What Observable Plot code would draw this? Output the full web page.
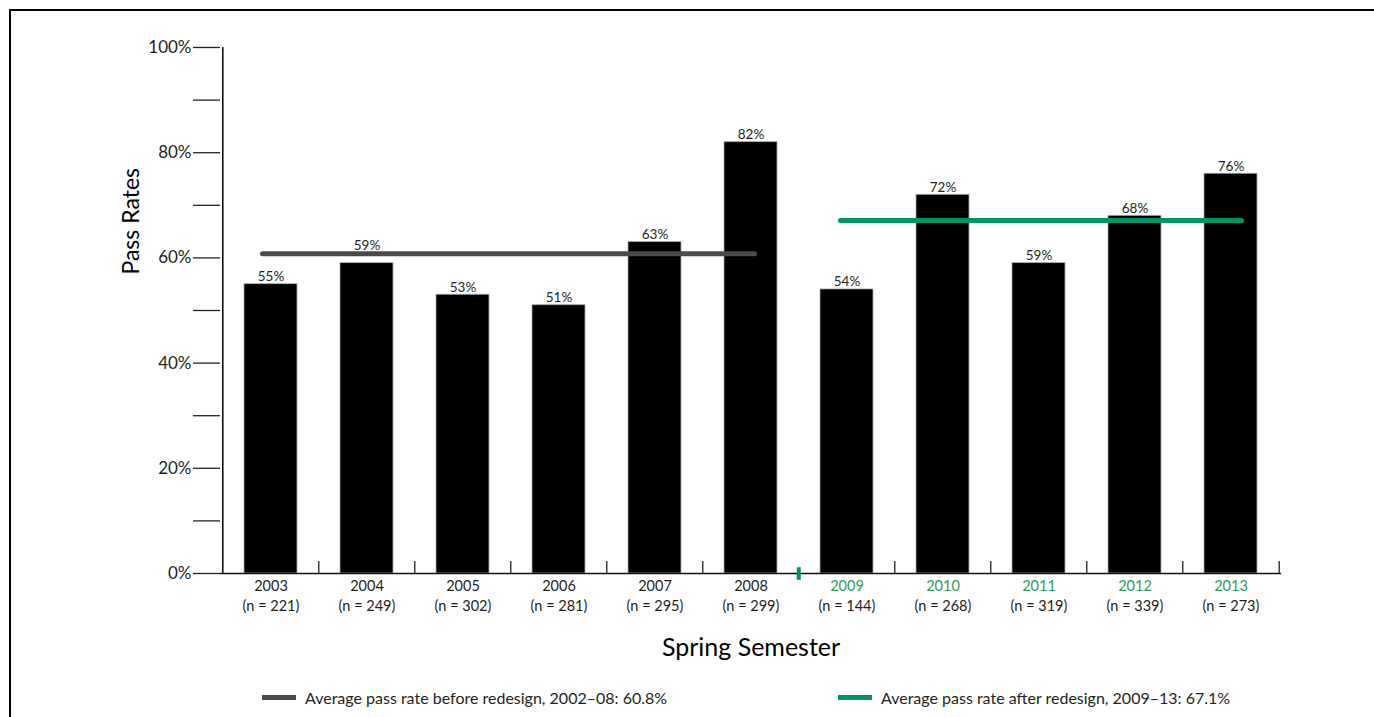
<!DOCTYPE html>
<html>
<head>
<meta charset="utf-8">
<script src="https://cdn.jsdelivr.net/npm/d3@7"></script>
<script src="https://cdn.jsdelivr.net/npm/@observablehq/plot@0.6"></script>
<style>
  html, body { margin: 0; padding: 0; background: #fff; }
  body { width: 1374px; height: 717px; position: relative; overflow: hidden; font-family: Lato, "Open Sans", sans-serif; color: #231f20; }
  #frame { position: absolute; left: 9px; top: 9px; right: -5px; bottom: -5px; border-top: 2px solid #000; border-left: 2px solid #000; }
  #chart { position: absolute; left: 0; top: 0; }
  #legend { position: absolute; left: 0; top: 685px; width: 1374px; height: 24px; font-size: 16px; }
  .item { position: absolute; top: 0; display: flex; align-items: center; height: 24px; }
  .sw { width: 34px; height: 5px; margin-right: 9px; }
</style>
</head>
<body>
<div id="frame"></div>
<div id="chart"></div>
<div id="legend"></div>
<script>
const years = ["2003","2004","2005","2006","2007","2008","2009","2010","2011","2012","2013"];
const rates = [55, 59, 53, 51, 63, 82, 54, 72, 59, 68, 76];
const ns = [221, 249, 302, 281, 295, 299, 144, 268, 319, 339, 273];
const afterYears = ["2009","2010","2011","2012","2013"];
const avgBefore = 60.8;
const avgAfter = 67.1;
const legendLabels = ["Average pass rate before redesign, 2002–08: 60.8%", "Average pass rate after redesign, 2009–13: 67.1%"];
const yTicks = [0,10,20,30,40,50,60,70,80,90,100];

const gray = "#4a4a4a";
const green = "#009366";
const greenText = "#2f9a5c";
const ink = "#231f20";

const data = years.map((y, i) => ({year: y, rate: rates[i], n: ns[i], after: afterYears.includes(y)}));
// a label that would collide with the "before" average line is lifted above it
const collides = d => !d.after && d.rate < avgBefore && d.rate + 3.5 > avgBefore;

const W = 1374, H = 680, mL = 220, mR = 93, mT = 47, mB = 107;
const step = (W - mL - mR) / years.length;

const chart = Plot.plot({
  width: W, height: H,
  marginLeft: mL, marginRight: mR, marginTop: mT, marginBottom: mB,
  style: {fontFamily: "Lato, 'Open Sans', sans-serif", background: "transparent", color: ink},
  x: {domain: years, paddingInner: 0.445, paddingOuter: 0.2225, axis: null},
  y: {domain: [0, 100], axis: null},
  marks: [
    Plot.axisY({ticks: yTicks, tickSize: 27, tickPadding: 2, tickFormat: d => d % 20 === 0 ? d + "%" : "", fontSize: 17, label: null, stroke: "#222", strokeWidth: 1.3}),
    Plot.barY(data, {x: "year", y: "rate", fill: "#000", stroke: "#aaa", strokeWidth: 0.8}),
    Plot.ruleX([0], {x: () => years[0], y1: 0, y2: 100, dx: -step / 2, stroke: "#111", strokeWidth: 1.6}),
    Plot.ruleY([0], {stroke: "#111", strokeWidth: 1.6}),
    Plot.ruleX(years.slice(1).filter(y => y !== "2009"), {x: d => d, y1: 0, y2: 2.3, dx: -step / 2, stroke: "#222", strokeWidth: 1.3}),
    Plot.ruleX([years[years.length - 1]], {x: d => d, y1: 0, y2: 2.3, dx: step / 2, stroke: "#222", strokeWidth: 1.3}),
    Plot.ruleX(["2009"], {x: d => d, y1: -1.3, y2: 1.1, dx: -step / 2, stroke: green, strokeWidth: 4}),
    Plot.ruleY([avgBefore], {y: d => d, x1: () => years[0], x2: () => "2008", insetLeft: 18.5, insetRight: 22.5, stroke: gray, strokeWidth: 5, strokeLinecap: "round"}),
    Plot.ruleY([avgAfter], {y: d => d, x1: () => "2009", x2: () => years[years.length - 1], insetLeft: 20.5, insetRight: 15.5, stroke: green, strokeWidth: 5, strokeLinecap: "round"}),
    Plot.text(data.filter(d => !collides(d)), {x: "year", y: "rate", text: d => d.rate + "%", lineAnchor: "bottom", dy: -3, fontSize: 13.5, fill: ink}),
    Plot.text(data.filter(collides), {x: "year", y: () => avgBefore, text: d => d.rate + "%", lineAnchor: "bottom", dy: -4, fontSize: 13.5, fill: ink}),
    Plot.text(data, {x: "year", y: 0, text: d => d.year, lineAnchor: "top", dy: 7, fontSize: 14.5, fill: d => d.after ? greenText : ink}),
    Plot.text(data, {x: "year", y: 0, text: d => `(n = ${d.n})`, lineAnchor: "top", dy: 27, fontSize: 14.5, fill: ink, ariaLabel: "nlab"}),
    Plot.text(["Pass Rates"], {frameAnchor: "left", text: d => d, rotate: -90, dx: -89, dy: -36, fontSize: 23, fill: "#000"}),
    Plot.text(["Spring Semester"], {frameAnchor: "bottom", text: d => d, dy: 82, fontSize: 25, fill: "#000"})
  ]
});
document.getElementById("chart").appendChild(chart);

// italicize the "n" in the sample-size labels
const ng = chart.querySelector('g[aria-label="nlab"]');
if (ng) {
  ng.querySelectorAll("text").forEach(t => {
    const s = t.textContent;
    const m = s.match(/^\(n = (\d+)\)$/);
    if (!m) return;
    t.textContent = "";
    const NS = "http://www.w3.org/2000/svg";
    const a = document.createElementNS(NS, "tspan"); a.textContent = "(";
    const b = document.createElementNS(NS, "tspan"); b.textContent = "n"; b.setAttribute("font-style", "italic");
    const c = document.createElementNS(NS, "tspan"); c.textContent = " = " + m[1] + ")";
    t.append(a, b, c);
  });
}

const legend = document.getElementById("legend");
[[262, gray, legendLabels[0]], [838, green, legendLabels[1]]].forEach(([left, col, txt]) => {
  const it = document.createElement("div");
  it.className = "item";
  it.style.left = left + "px";
  const sw = document.createElement("div");
  sw.className = "sw"; sw.style.background = col;
  const lab = document.createElement("span");
  lab.textContent = txt;
  it.append(sw, lab);
  legend.appendChild(it);
});
</script>
</body>
</html>
